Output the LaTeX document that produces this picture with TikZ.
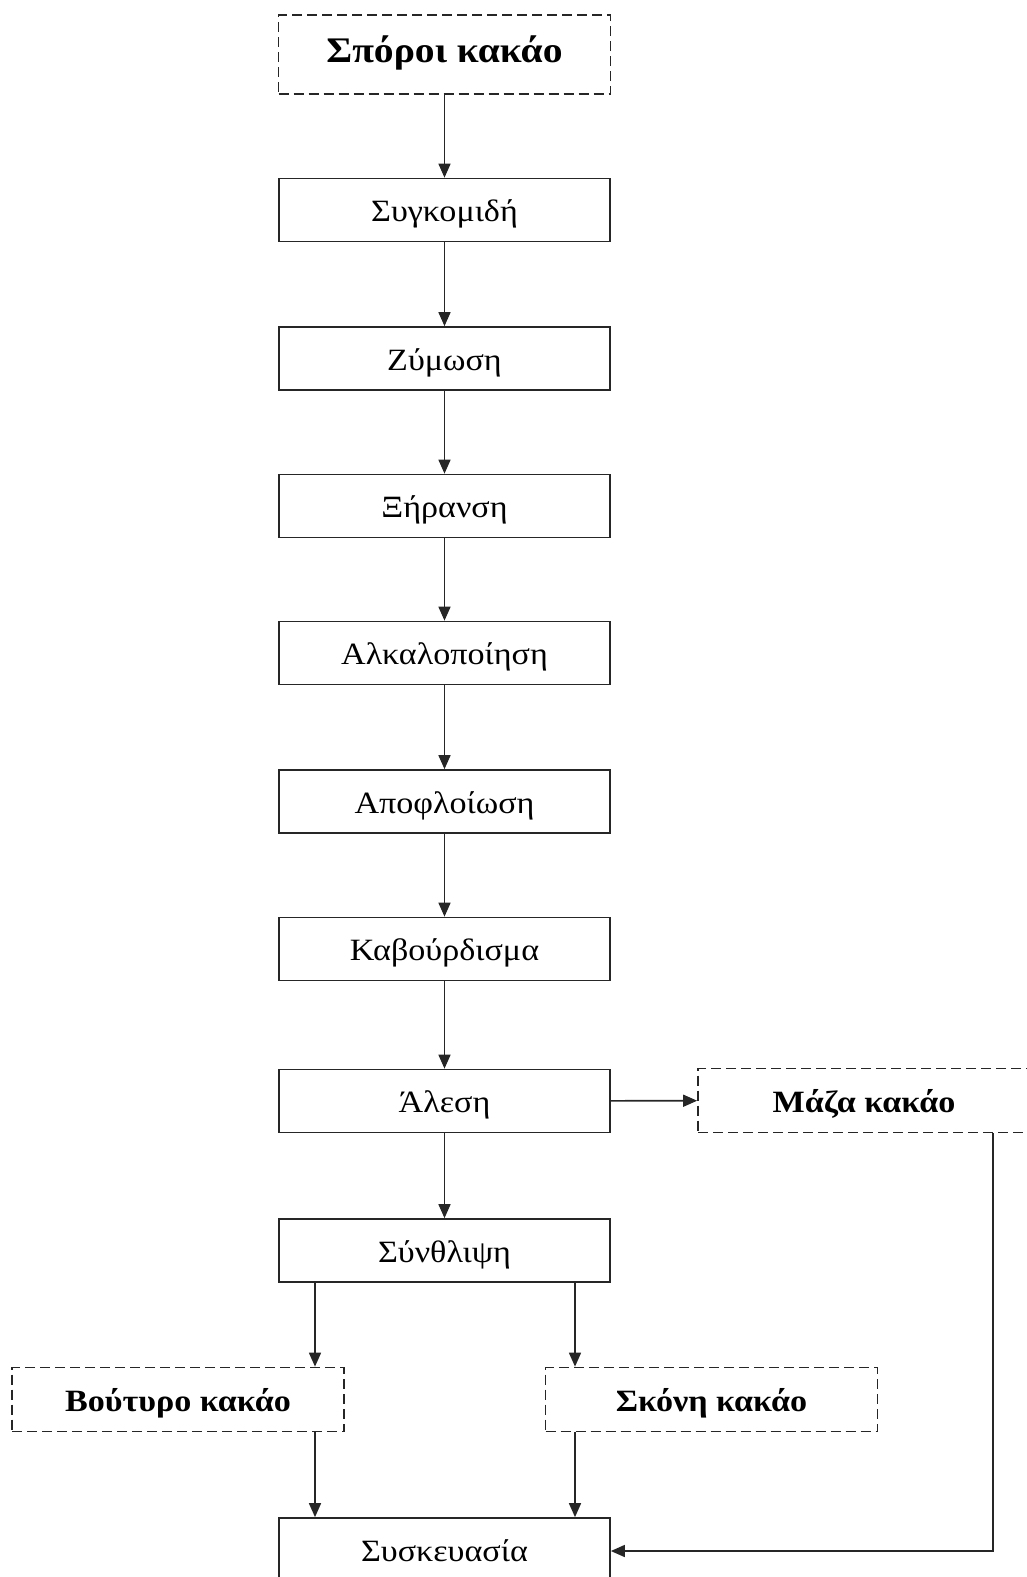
\documentclass[tikz,border=0pt]{standalone}
\usepackage{fontspec}
\setmainfont{Liberation Serif}[FakeStretch=1.1]
\usetikzlibrary{arrows.meta}
\definecolor{linec}{HTML}{262626}
\tikzset{
  x=1pt, y=-1pt,
  procbox/.style={draw=linec, line width=1.7pt, minimum width=331pt, minimum height=63pt, inner sep=0pt, font=\fontsize{31}{33}\selectfont, text height=28.7pt, text depth=5.3pt},
  prodbox/.style={draw=linec, line width=1.7pt, dash pattern=on 10pt off 5pt, minimum width=332pt, minimum height=64pt, inner sep=0pt, font=\bfseries\fontsize{31}{33}\selectfont, text height=28.7pt, text depth=5.3pt},
  flow/.style={draw=linec, line width=1.6pt, -{Triangle[length=14pt,width=12pt]}}
}
\begin{document}
\begin{tikzpicture}
\useasboundingbox (0,0) rectangle (1027,1577);
\begin{scope}
\clip (0,0) rectangle (1027,1577);
\node[prodbox, minimum height=79pt, font=\bfseries\fontsize{36}{38}\selectfont, text height=26pt, text depth=10pt] (spo) at (444.5,54.5) {Σπόροι κακάο};
\node[procbox] (syg) at (444.5,210) {Συγκομιδή};
\node[procbox] (zym) at (444.5,358.5) {Ζύμωση};
\node[procbox] (xir) at (444.5,506) {Ξήρανση};
\node[procbox] (alk) at (444.5,653) {Αλκαλοποίηση};
\node[procbox] (apo) at (444.5,801.5) {Αποφλοίωση};
\node[procbox] (kav) at (444.5,949) {Καβούρδισμα};
\node[procbox] (ale) at (444.5,1101) {Άλεση};
\node[procbox] (syn) at (444.5,1250.5) {Σύνθλιψη};
\node[prodbox] (maz) at (864,1100.5) {Μάζα κακάο};
\node[prodbox] (vou) at (178,1399.5) {Βούτυρο κακάο};
\node[prodbox] (sko) at (711.5,1399.5) {Σκόνη κακάο};
\node[procbox] (sys) at (444.5,1549.5) {Συσκευασία};
\coordinate (turn) at (993,1551);
\draw[flow] (spo) -- (syg);
\draw[flow] (syg) -- (zym);
\draw[flow] (zym) -- (xir);
\draw[flow] (xir) -- (alk);
\draw[flow] (alk) -- (apo);
\draw[flow] (apo) -- (kav);
\draw[flow] (kav) -- (ale);
\draw[flow] (ale) -- (syn);
\draw[flow] (ale) -- (maz);
\draw[flow] (syn.south -| 315,0) -- (vou.north -| 315,0);
\draw[flow] (syn.south -| 575,0) -- (sko.north -| 575,0);
\draw[flow] (vou.south -| 315,0) -- (sys.north -| 315,0);
\draw[flow] (sko.south -| 575,0) -- (sys.north -| 575,0);
\draw[flow] (maz.south -| turn) -- (turn) -- (sys.east |- turn);
\end{scope}
\end{tikzpicture}
\end{document}
